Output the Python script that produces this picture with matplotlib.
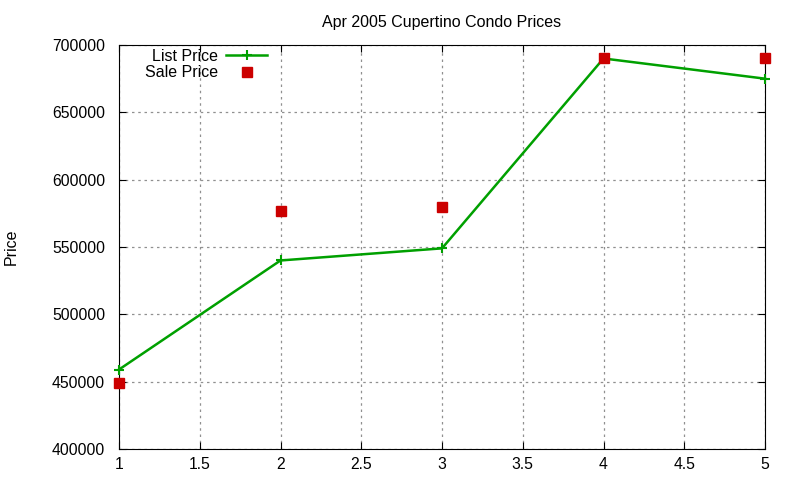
import numpy as np
import matplotlib
matplotlib.use("Agg")
import matplotlib.pyplot as plt

plt.rcParams['font.family'] = ['Liberation Sans', 'DejaVu Sans']

# Apr 2005 condo data
months = [1, 2, 3, 4, 5]
list_price = [459000, 540000, 549000, 690000, 675000]
sale_price = [449000, 577000, 580000, 690000, 690000]

x_ticks = [1, 1.5, 2, 2.5, 3, 3.5, 4, 4.5, 5]
x_tick_labels = ['1', '1.5', '2', '2.5', '3', '3.5', '4', '4.5', '5']
y_ticks = [400000, 450000, 500000, 550000, 600000, 650000, 700000]

fig = plt.figure(figsize=(8, 4.8), dpi=100)
ax = fig.add_axes([119/800, 1-449/480, (765-119)/800, (449-45)/480])

ax.plot(months, list_price, color='#00a000', linewidth=1.8, marker='+',
        markersize=7, markeredgewidth=1.5, label='List Price', clip_on=False, zorder=3)
ax.plot(months, sale_price, color='#cc0000', linestyle='none', marker='s',
        markersize=6.5, label='Sale Price', clip_on=False, zorder=4)

ax.set_xlim(1, 5)
ax.set_ylim(400000, 700000)
ax.set_xticks(x_ticks)
ax.set_xticklabels(x_tick_labels)
ax.set_yticks(y_ticks)
ax.set_yticklabels([str(v) for v in y_ticks])
ax.tick_params(direction='in', top=True, right=True, labelsize=11.3, length=5, color='black')
ax.tick_params(axis='y', pad=10)
ax.tick_params(axis='x', pad=6)
ax.grid(True, linestyle=(0, (2, 3)), color='#909090', linewidth=0.9)

ax.set_title('Apr 2005 Cupertino Condo Prices', fontsize=11.5, pad=13)
ax.set_ylabel('Price', fontsize=11.5)
ax.yaxis.set_label_coords(-0.155, 0.5)

leg = ax.legend(loc='upper left', bbox_to_anchor=(0.025, 1.015), markerfirst=False,
                frameon=False, fontsize=11.5, handlelength=2.6, labelspacing=0.1,
                handletextpad=0.5, borderaxespad=0.2)

fig.savefig('out.png', dpi=100)
